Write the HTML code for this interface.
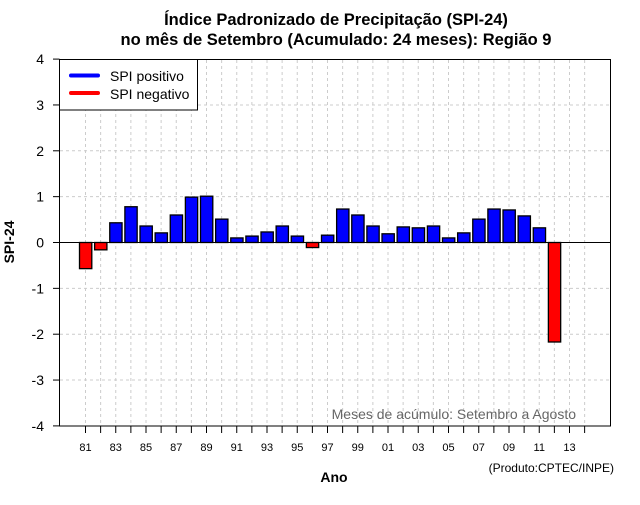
<!DOCTYPE html>
<html><head><meta charset="utf-8"><style>
body{margin:0;background:#fff;}
svg text{font-family:"Liberation Sans",sans-serif;}
</style></head><body>
<svg id="chart" width="640" height="500" xmlns="http://www.w3.org/2000/svg">
<rect width="640" height="500" fill="#fff"/>
<text x="336" y="25" font-size="16.5" font-weight="bold" text-anchor="middle">Índice Padronizado de Precipitação (SPI-24)</text>
<text x="336" y="45" font-size="16.5" font-weight="bold" text-anchor="middle">no mês de Setembro (Acumulado: 24 meses): Região 9</text>
<g id="grid"></g>
<g id="bars"></g>
<line x1="60" y1="242.5" x2="611" y2="242.5" stroke="#000" stroke-width="1"/>
<rect x="59.5" y="59.5" width="551" height="366.5" fill="none" stroke="#000"/>
<g id="axes"></g>
<g>
<rect x="59.5" y="59.5" width="138" height="50.5" fill="#fff" stroke="#000"/>
<line x1="71" y1="75.5" x2="98" y2="75.5" stroke="#00f" stroke-width="4" stroke-linecap="round"/>
<text x="110" y="81" font-size="14">SPI positivo</text>
<line x1="71" y1="93" x2="98" y2="93" stroke="#f00" stroke-width="4" stroke-linecap="round"/>
<text x="110" y="99" font-size="14">SPI negativo</text>
</g>
<text x="576" y="419" font-size="14" fill="#666" text-anchor="end">Meses de acúmulo: Setembro a Agosto</text>
<text x="334" y="482" font-size="14" font-weight="bold" text-anchor="middle">Ano</text>
<text x="14" y="242" font-size="14" font-weight="bold" text-anchor="middle" transform="rotate(-90 14 242)">SPI-24</text>
<text x="614" y="472" font-size="12" text-anchor="end">(Produto:CPTEC/INPE)</text>
</svg>
<script>
const years = [1981,1982,1983,1984,1985,1986,1987,1988,1989,1990,1991,1992,1993,1994,1995,1996,1997,1998,1999,2000,2001,2002,2003,2004,2005,2006,2007,2008,2009,2010,2011,2012];
const spiValues = [-0.57,-0.16,0.43,0.78,0.36,0.21,0.60,0.99,1.01,0.51,0.10,0.14,0.23,0.36,0.14,-0.11,0.16,0.73,0.60,0.36,0.19,0.34,0.32,0.36,0.10,0.21,0.51,0.73,0.71,0.58,0.32,-2.17];
const yTicks = [-4,-3,-2,-1,0,1,2,3,4];
const xTickYears = [1981,1982,1983,1984,1985,1986,1987,1988,1989,1990,1991,1992,1993,1994,1995,1996,1997,1998,1999,2000,2001,2002,2003,2004,2005,2006,2007,2008,2009,2010,2011,2012,2013,2014];

const NS='http://www.w3.org/2000/svg';
const xScale = y => 85.5 + (y-1981)*15.125;
const yScale = v => 242.5 - v*45.85;
function mk(tag, attrs, parent){const e=document.createElementNS(NS,tag);for(const k in attrs)e.setAttribute(k,attrs[k]);parent.appendChild(e);return e;}
const grid=document.getElementById('grid'), bars=document.getElementById('bars'), axes=document.getElementById('axes');
yTicks.forEach(t=>{
  if(t!==0 && Math.abs(t)<4){
    const l=mk('line',{x1:60,x2:610,y1:yScale(t),y2:yScale(t),stroke:'#ccc','stroke-dasharray':'3,3'},grid);
    
    
  }
  const tk=mk('line',{x1:53,x2:59.5,y1:yScale(t),y2:yScale(t),stroke:'#000'},axes);
  
  
  const tx=mk('text',{x:44,y:yScale(t)+5,'font-size':14,'text-anchor':'end'},axes);
  tx.textContent=String(t);
  
  
});
xTickYears.forEach((yr,i)=>{
  const x=xScale(yr);
  const g=mk('line',{x1:x,x2:x,y1:60,y2:426,stroke:'#ccc','stroke-dasharray':'3,3'},grid);
  
  
  const tk=mk('line',{x1:x,x2:x,y1:426,y2:433,stroke:'#000'},axes);
  
  
  if(i%2===0){
    const tx=mk('text',{x:x,y:451,'font-size':11,'text-anchor':'middle'},axes);
    tx.textContent=String(yr%100).padStart(2,'0');
    
    
  }
});
years.forEach((yr,i)=>{
  const v=spiValues[i];
  const x=xScale(yr);
  const y0=yScale(0), y1=yScale(v);
  const r=mk('rect',{x:x-6,y:Math.min(y0,y1),width:12.3,height:Math.abs(y1-y0),fill:v>=0?'#0000ff':'#ff0000',stroke:'#000','stroke-width':1.3},bars);
  
  
});
</script>
</body></html>
